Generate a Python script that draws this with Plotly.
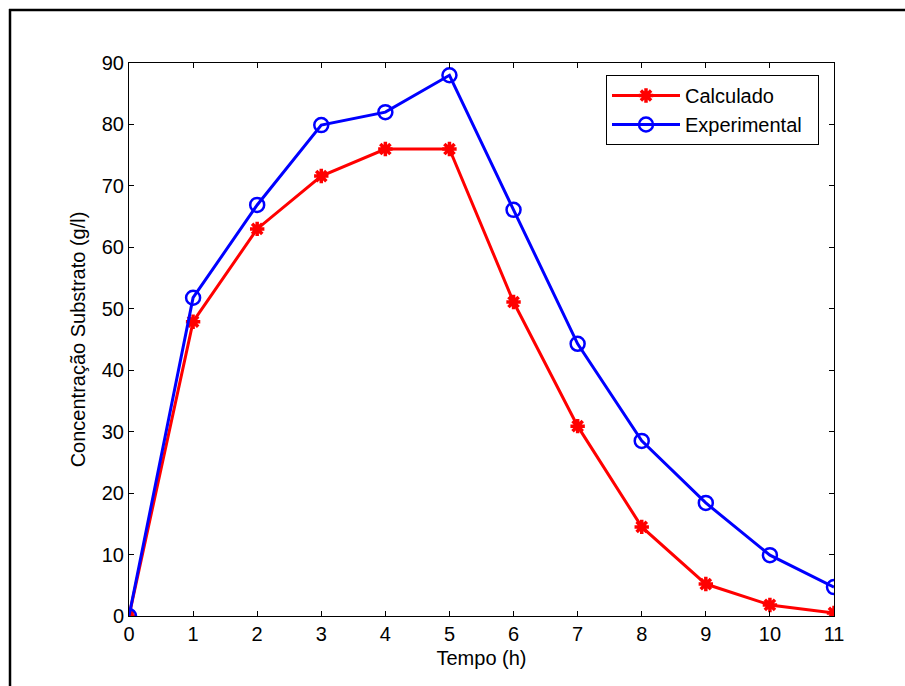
import plotly.graph_objects as go

tempo = [0, 1, 2, 3, 4, 5, 6, 7, 8, 9, 10, 11]
calculado = [0, 47.9, 63.0, 71.6, 76.0, 76.0, 51.1, 30.9, 14.5, 5.2, 1.8, 0.5]
experimental = [0, 51.8, 66.9, 79.9, 82.0, 88.0, 66.1, 44.3, 28.5, 18.4, 9.9, 4.7]
series_names = ["Calculado", "Experimental"]
xticks = list(range(0, 12))
yticks = list(range(0, 100, 10))

FONT = "Liberation Sans, Arial, sans-serif"
PAD = "\u00a0\u00a0"

fig = go.Figure()
fig.add_trace(go.Scatter(
    x=tempo, y=calculado, name=series_names[0] + PAD, mode="lines+markers",
    line=dict(color="#ff0000", width=3),
    marker=dict(symbol="asterisk-open", size=12, color="#ff0000",
                line=dict(color="#ff0000", width=3.5)),
))
fig.add_trace(go.Scatter(
    x=tempo, y=experimental, name=series_names[1] + PAD, mode="lines+markers",
    line=dict(color="#0000ff", width=3),
    marker=dict(symbol="circle-open", size=14, color="#0000ff",
                line=dict(color="#0000ff", width=2.5)),
))

W, H = 905, 686
L, R, T, B = 129, 834, 63, 616

def px(x):
    return (x - L) / (R - L)

def py(y):
    return (B - y) / (B - T)

fig.update_layout(
    width=W, height=H,
    margin=dict(l=L, r=W - R, t=T, b=H - B),
    paper_bgcolor="white", plot_bgcolor="white",
    font=dict(family=FONT, size=17, color="black"),
    showlegend=True,
    legend=dict(
        x=px(606), y=py(75), xanchor="left", yanchor="top",
        bordercolor="black", borderwidth=1, bgcolor="white",
        font=dict(family=FONT, size=20, color="black"),
        itemwidth=68, tracegroupgap=0,
    ),
    shapes=[
        dict(type="line", xref="paper", yref="paper",
             x0=px(9), x1=px(905), y0=py(10), y1=py(10),
             line=dict(color="black", width=2.5)),
        dict(type="line", xref="paper", yref="paper",
             x0=px(10), x1=px(10), y0=py(9), y1=py(686),
             line=dict(color="black", width=2.5)),
    ],
)
fig.update_xaxes(
    range=[0, 11], tickvals=xticks, ticktext=[str(v) for v in xticks],
    showgrid=False, zeroline=False, showline=True, linecolor="black",
    linewidth=1, mirror="ticks", ticks="inside", ticklen=5,
    tickcolor="black", title=dict(text="Tempo (h)", standoff=6),
    tickfont=dict(size=20),
)
fig.update_yaxes(
    range=[0, 90], tickvals=yticks, ticktext=[str(v) for v in yticks],
    showgrid=False, zeroline=False, showline=True, linecolor="black",
    linewidth=1, mirror="ticks", ticks="inside", ticklen=5,
    tickcolor="black", title=dict(text="Concentração Substrato (g/l)", standoff=10),
    tickfont=dict(size=20),
)

fig.write_html("out.html")
